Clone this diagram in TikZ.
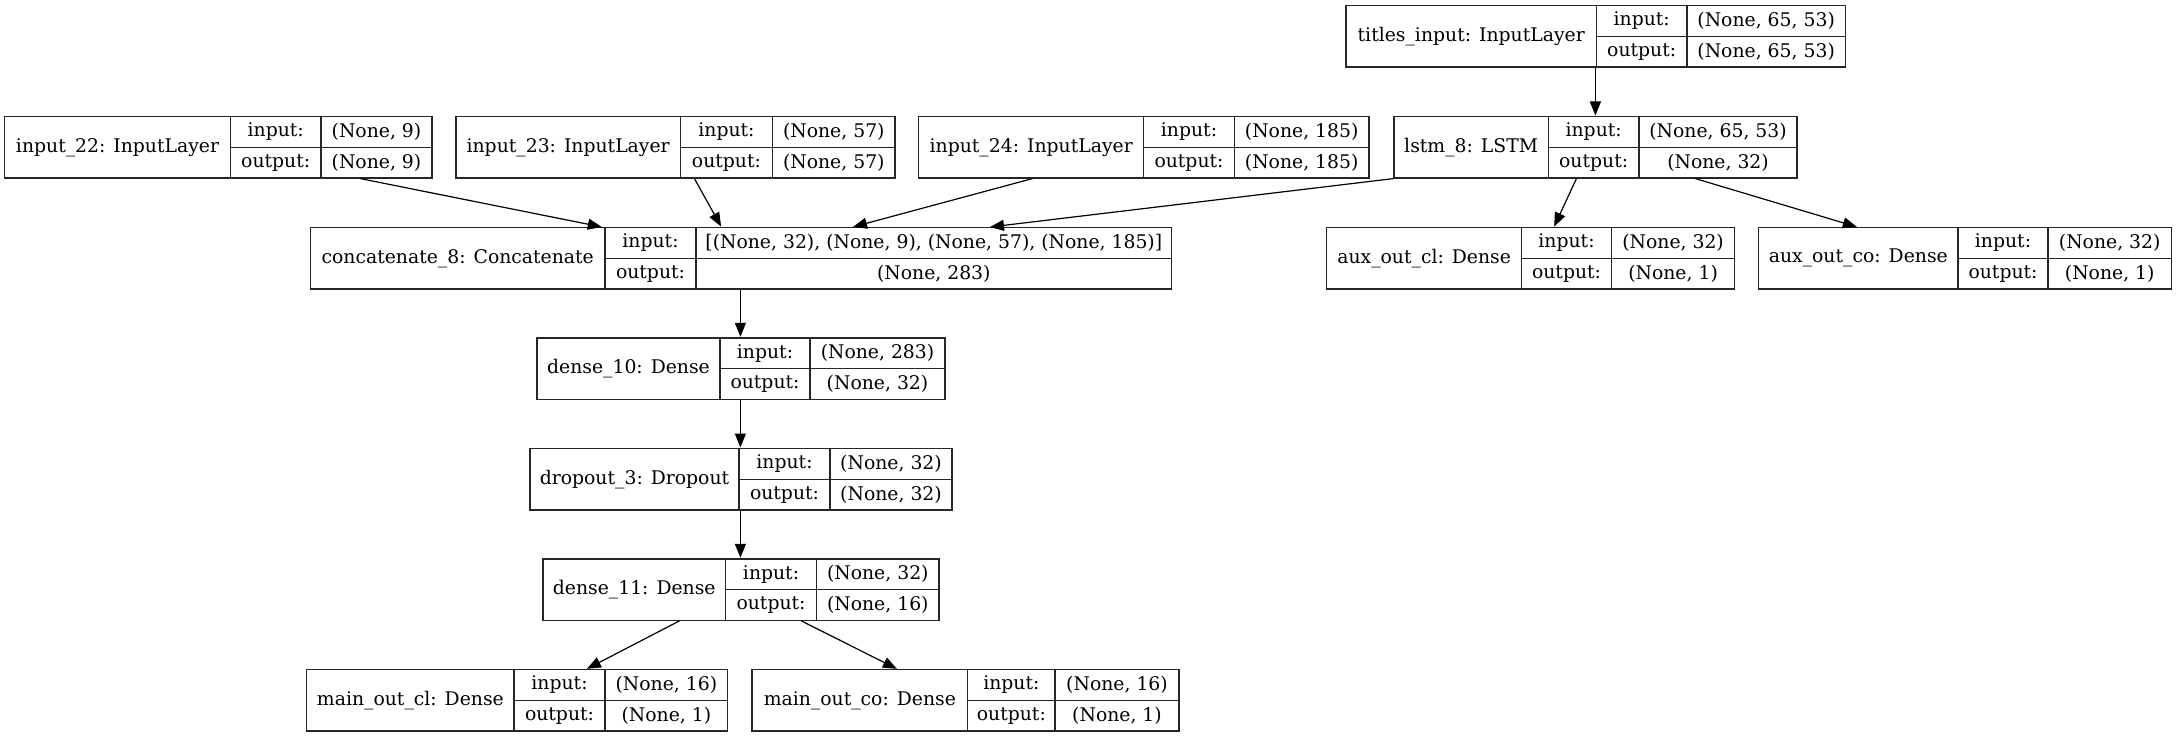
\documentclass[tikz,border=0pt]{standalone}
\usepackage{fontspec}
\setmainfont{DejaVu Serif}
\usetikzlibrary{arrows.meta,calc,fit}
\tikzset{
  box/.style={draw=black!85, line width=0.6pt, inner sep=0pt},
  rule/.style={draw=black!85, line width=0.6pt},
  txt/.style={inner sep=0pt, font=\fontsize{9.4}{11}\selectfont},
  conn/.style={draw=black, line width=0.6pt, -{Triangle[length=7pt,width=5.5pt]}, shorten >=0.3pt}
}
\newcommand\rec[9]{%
  \node[box, fit={(#2,#6) (#5,#6+61.3)}] (#1) {};
  \draw[rule] (#3,#6) -- (#3,#6+61.3) (#4,#6) -- (#4,#6+61.3) (#3,#6+30.65) -- (#5,#6+30.65);
  \node[txt] (#1-l) at ({(#2+#3)/2},#6+30.65) {#7};
  \node[txt] (#1-i) at ({(#3+#4)/2},#6+15.3) {input:};
  \node[txt] (#1-o) at ({(#3+#4)/2},#6+46) {output:};
  \node[txt] (#1-iv) at ({(#4+#5)/2},#6+15.3) {#8};
  \node[txt] (#1-ov) at ({(#4+#5)/2},#6+46) {#9};
}
\begin{document}
\begin{tikzpicture}[x=0.5pt,y=-0.5pt]
\useasboundingbox (0,0) rectangle (2177,737);
\rec{titles}{1346}{1596.4}{1687}{1845.3}{5.7}{titles\_input: InputLayer}{(None, 65, 53)}{(None, 65, 53)}
\rec{in22}{4.7}{230.4}{321}{432}{116.7}{input\_22: InputLayer}{(None, 9)}{(None, 9)}
\rec{in23}{456}{680.3}{772.6}{895}{116.7}{input\_23: InputLayer}{(None, 57)}{(None, 57)}
\rec{in24}{918.8}{1143.6}{1234.4}{1369}{116.7}{input\_24: InputLayer}{(None, 185)}{(None, 185)}
\rec{lstm}{1394}{1548.3}{1639}{1797}{116.7}{lstm\_8: LSTM}{(None, 65, 53)}{(None, 32)}
\rec{concat}{310.5}{605}{696}{1171.6}{227.7}{concatenate\_8: Concatenate}{[(None, 32), (None, 9), (None, 57), (None, 185)]}{(None, 283)}
\rec{auxcl}{1326.8}{1521.5}{1611.5}{1734.6}{227.7}{aux\_out\_cl: Dense}{(None, 32)}{(None, 1)}
\rec{auxco}{1758.6}{1958}{2048}{2171.4}{227.7}{aux\_out\_co: Dense}{(None, 32)}{(None, 1)}
\rec{dense10}{537}{720}{810}{945}{338}{dense\_10: Dense}{(None, 283)}{(None, 32)}
\rec{drop}{530}{739}{830}{952}{448.7}{dropout\_3: Dropout}{(None, 32)}{(None, 32)}
\rec{dense11}{543}{725.5}{816.6}{939}{559}{dense\_11: Dense}{(None, 32)}{(None, 16)}
\rec{maincl}{306.8}{514}{605}{727.8}{669.7}{main\_out\_cl: Dense}{(None, 16)}{(None, 1)}
\rec{mainco}{752}{967.7}{1055}{1179}{669.7}{main\_out\_co: Dense}{(None, 16)}{(None, 1)}
\draw[conn] ($(in22.south west)+(356.3,0)$) -- ($(concat.north west)+(292.5,0)$);
\draw[conn] ($(in23.south west)+(239,0)$) -- ($(concat.north west)+(411.5,0)$);
\draw[conn] ($(in24.south west)+(114.2,0)$) -- ($(concat.north west)+(542.5,0)$);
\draw[conn] (lstm.south west) -- ($(concat.north west)+(679.5,0)$);
\draw[conn] ($(titles.south west)+(250,0)$) -- ($(lstm.north west)+(202,0)$);
\draw[conn] ($(lstm.south west)+(183,0)$) -- ($(auxcl.north west)+(227.7,0)$);
\draw[conn] ($(lstm.south west)+(302,0)$) -- ($(auxco.north west)+(99.4,0)$);
\draw[conn] ($(concat.south west)+(430.5,0)$) -- ($(dense10.north west)+(204,0)$);
\draw[conn] ($(dense10.south west)+(204,0)$) -- ($(drop.north west)+(211,0)$);
\draw[conn] ($(drop.south west)+(211,0)$) -- ($(dense11.north west)+(198,0)$);
\draw[conn] ($(dense11.south west)+(137,0)$) -- ($(maincl.north west)+(280.2,0)$);
\draw[conn] ($(dense11.south west)+(259,0)$) -- ($(mainco.north west)+(146,0)$);
\end{tikzpicture}
\end{document}
